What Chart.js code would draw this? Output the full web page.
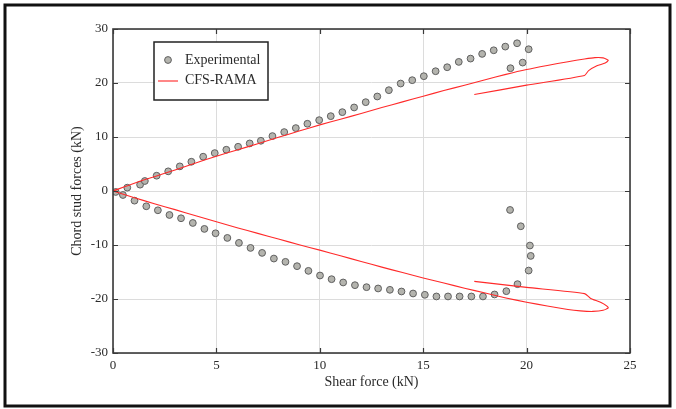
<!DOCTYPE html>
<html>
<head>
<meta charset="utf-8">
<script src="https://cdn.jsdelivr.net/npm/chart.js@4.4.1/dist/chart.umd.min.js"></script>
<style>
  html, body { margin: 0; padding: 0; background: #fff; }
  #wrap { position: relative; width: 676px; height: 409px; }
</style>
</head>
<body>
<div id="wrap"><canvas id="chartForces" width="676" height="409"></canvas></div>
<script>
/* Experimental : points (shear force kN, chord stud force kN) */
const expX = [0.13, 0.69, 1.31, 1.54, 2.11, 2.67, 3.23, 3.79, 4.36, 4.92, 5.48, 6.05, 6.61, 7.15, 7.71,
              8.28, 8.84, 9.40, 9.97, 10.53, 11.09, 11.66, 12.22, 12.78, 13.34, 13.91, 14.47, 15.03, 15.60,
              16.16, 16.72, 17.29, 17.85, 18.41, 18.97, 19.54, 20.10, 19.81, 19.22,
              0.48, 1.04, 1.61, 2.17, 2.73, 3.29, 3.86, 4.42, 4.96, 5.53, 6.09, 6.65, 7.21, 7.78, 8.34,
              8.90, 9.45, 10.01, 10.57, 11.13, 11.70, 12.26, 12.82, 13.39, 13.95, 14.51, 15.08, 15.64,
              16.20, 16.76, 17.33, 17.89, 18.45, 19.02, 19.56, 20.10, 20.20, 20.16, 19.72, 19.20];
const expY = [-0.18, 0.62, 1.17, 1.85, 2.83, 3.64, 4.56, 5.42, 6.35, 7.02, 7.64, 8.19, 8.81, 9.30, 10.17,
              10.91, 11.65, 12.45, 13.12, 13.86, 14.60, 15.47, 16.45, 17.50, 18.67, 19.90, 20.52, 21.26, 22.18,
              22.92, 23.91, 24.52, 25.39, 26.06, 26.74, 27.36, 26.25, 23.78, 22.74,
              -0.74, -1.79, -2.83, -3.57, -4.44, -5.05, -5.92, -7.02, -7.83, -8.69, -9.61, -10.54, -11.46, -12.51, -13.12,
              -13.92, -14.79, -15.65, -16.33, -16.94, -17.44, -17.81, -18.05, -18.30, -18.61, -18.98, -19.22, -19.53,
              -19.53, -19.53, -19.53, -19.53, -19.16, -18.55, -17.25, -14.73, -12.02, -10.10, -6.53, -3.51];

/* CFS-RAMA : branche positive puis branche négative */
const ramaUpX = [0, 1, 2, 3, 4, 5, 6, 7, 8, 9, 10, 11, 12, 13, 14, 15, 16, 17, 18, 19, 20, 21, 22,
                 22.8, 23.3, 23.7, 23.95, 23.8, 23.4, 23.0, 22.8, 20, 17.47];
const ramaUpY = [0, 1.4, 2.65, 3.9, 5.2, 6.45, 7.6, 8.75, 9.95, 11.1, 12.25, 13.3, 14.35, 15.45, 16.5, 17.55,
                 18.6, 19.6, 20.6, 21.6, 22.5, 23.25, 23.95, 24.45, 24.7, 24.65, 24.2, 23.7, 23.2, 22.3, 21.4, 19.6, 17.86];
const ramaLoX = [0, 1, 2, 3, 4, 5, 6, 7, 8, 9, 10, 11, 12, 13, 14, 15, 16, 17, 18, 19, 20, 21, 22,
                 22.6, 23.2, 23.7, 23.95, 23.6, 23.1, 22.8, 20, 17.47];
const ramaLoY = [0, -1.2, -2.35, -3.45, -4.6, -5.7, -6.8, -7.85, -8.9, -9.95, -10.95, -12.0, -13.05, -14.1,
                 -15.1, -16.1, -17.05, -18.0, -18.9, -19.8, -20.6, -21.3, -21.95, -22.2, -22.3, -22.1, -21.6,
                 -20.65, -19.9, -19.0, -17.85, -16.74];

const xTicks = [0, 5, 10, 15, 20, 25];
const yTicks = [-30, -20, -10, 0, 10, 20, 30];

const toPts = (xs, ys) => xs.map((x, i) => ({ x: x, y: ys[i] }));

const SERIF = "'Liberation Serif', 'DejaVu Serif', serif";
const TXT = '#2a2a2a';
const RED = '#ff2a2a';
const DOT_FILL = '#b4b4ae';
const DOT_EDGE = '#606060';

/* cadre, graduations vers l'intérieur, légende dans le graphe */
const framePlugin = {
    id: 'frame',
    beforeDraw(chart) {
        const ctx = chart.ctx;
        ctx.save();
        ctx.fillStyle = '#fff';
        ctx.fillRect(0, 0, chart.width, chart.height);
        ctx.restore();
    },
    afterDraw(chart) {
        const ctx = chart.ctx;
        const { left, right, top, bottom } = chart.chartArea;
        const sx = chart.scales.x, sy = chart.scales.y;
        ctx.save();

        // bordure externe
        ctx.strokeStyle = '#111';
        ctx.lineWidth = 3;
        ctx.strokeRect(5, 5, 665, 401);

        // cadre du graphe
        ctx.strokeStyle = '#3a3a3a';
        ctx.lineWidth = 1.6;
        ctx.strokeRect(left, top, right - left, bottom - top);

        // graduations
        ctx.lineWidth = 1.2;
        ctx.beginPath();
        xTicks.forEach(v => {
            const px = Math.round(sx.getPixelForValue(v)) + 0.5;
            ctx.moveTo(px, bottom); ctx.lineTo(px, bottom - 5);
            ctx.moveTo(px, top);    ctx.lineTo(px, top + 5);
        });
        yTicks.forEach(v => {
            const py = Math.round(sy.getPixelForValue(v)) + 0.5;
            ctx.moveTo(left, py);  ctx.lineTo(left + 5, py);
            ctx.moveTo(right, py); ctx.lineTo(right - 5, py);
        });
        ctx.stroke();

        // légende
        const lx = left + 41, ly = top + 13;
        ctx.fillStyle = '#fff';
        ctx.fillRect(lx, ly, 114, 58);
        ctx.strokeStyle = '#222';
        ctx.lineWidth = 1.5;
        ctx.strokeRect(lx, ly, 114, 58);

        ctx.beginPath();
        ctx.arc(lx + 14, ly + 18, 3.4, 0, Math.PI * 2);
        ctx.fillStyle = DOT_FILL;
        ctx.fill();
        ctx.strokeStyle = DOT_EDGE;
        ctx.lineWidth = 1;
        ctx.stroke();

        ctx.beginPath();
        ctx.moveTo(lx + 4, ly + 39);
        ctx.lineTo(lx + 24, ly + 39);
        ctx.strokeStyle = '#ff6a6a';
        ctx.lineWidth = 1.6;
        ctx.stroke();

        ctx.fillStyle = TXT;
        ctx.font = '14px ' + SERIF;
        ctx.textBaseline = 'middle';
        ctx.textAlign = 'left';
        ctx.fillText('Experimental', lx + 31, ly + 18);
        ctx.fillText('CFS-RAMA', lx + 31, ly + 38);
        ctx.restore();
    }
};

new Chart(document.getElementById('chartForces'), {
    type: 'scatter',
    data: {
        datasets: [
            {
                label: 'Experimental',
                data: toPts(expX, expY),
                pointRadius: 3.4,
                pointHoverRadius: 3.4,
                pointBackgroundColor: DOT_FILL,
                pointBorderColor: DOT_EDGE,
                pointBorderWidth: 1,
                showLine: false,
                order: 2
            },
            {
                label: 'CFS-RAMA',
                data: toPts(ramaUpX, ramaUpY),
                showLine: true,
                borderColor: RED,
                borderWidth: 1.1,
                pointRadius: 0,
                tension: 0.2,
                fill: false,
                order: 1
            },
            {
                label: 'CFS-RAMA (neg)',
                data: toPts(ramaLoX, ramaLoY),
                showLine: true,
                borderColor: RED,
                borderWidth: 1.1,
                pointRadius: 0,
                tension: 0.2,
                fill: false,
                order: 1
            }
        ]
    },
    options: {
        responsive: false,
        animation: false,
        layout: { padding: { top: 29, right: 46, bottom: 0, left: 0 } },
        plugins: {
            legend: { display: false },
            tooltip: { enabled: false }
        },
        scales: {
            x: {
                type: 'linear',
                min: 0, max: 25,
                afterFit: s => { s.height = 56; },
                afterBuildTicks: s => { s.ticks = xTicks.map(v => ({ value: v })); },
                grid: { color: '#dcdcdc', drawTicks: false },
                border: { display: false },
                ticks: { padding: 5, color: TXT, font: { family: SERIF, size: 13 } },
                title: {
                    display: true, text: 'Shear force (kN)', color: TXT,
                    font: { family: SERIF, size: 14 }, padding: { top: 0, bottom: 18.6 }
                }
            },
            y: {
                type: 'linear',
                min: -30, max: 30,
                afterFit: s => { s.width = 113; },
                afterBuildTicks: s => { s.ticks = yTicks.map(v => ({ value: v })); },
                grid: { color: '#dcdcdc', drawTicks: false },
                border: { display: false },
                ticks: { padding: 5, color: TXT, font: { family: SERIF, size: 13 } },
                title: {
                    display: true, text: 'Chord stud forces (kN)', color: TXT,
                    font: { family: SERIF, size: 14 }, padding: { top: 68.6, bottom: 0 }
                }
            }
        }
    },
    plugins: [framePlugin]
});
</script>
</body>
</html>
